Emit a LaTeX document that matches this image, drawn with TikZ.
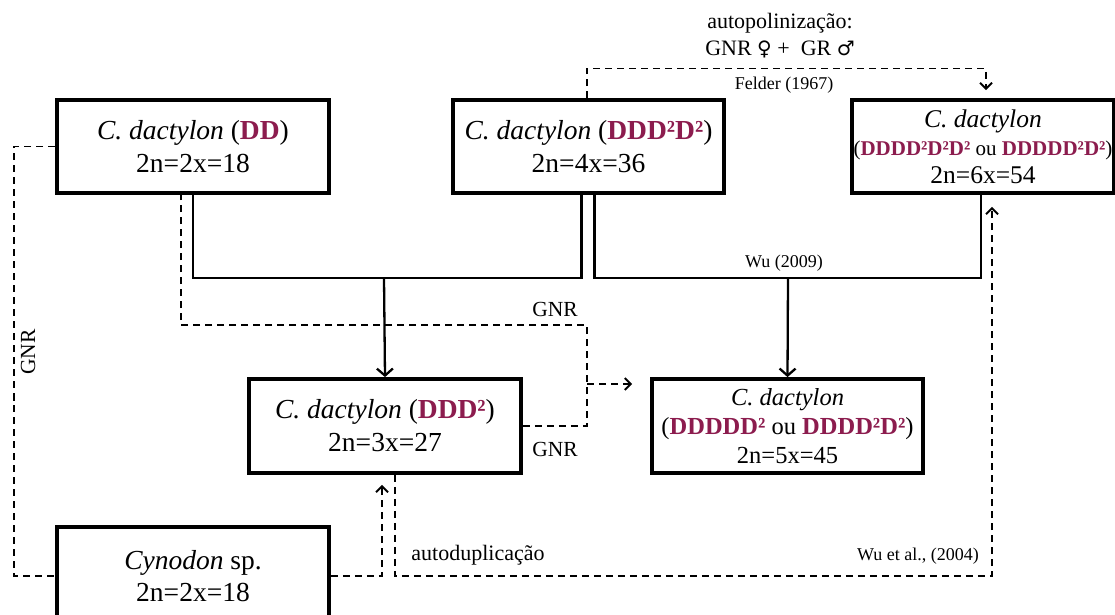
\documentclass[tikz,border=0pt]{standalone}
\usepackage{fontspec}
\setmainfont{Liberation Serif}[
  UprightFont=Liberation Serif,
  ItalicFont=Liberation Serif Italic,
  BoldFont=Liberation Serif Bold,
  BoldItalicFont=Liberation Serif Bold Italic]
\newfontfamily\simbolo{DejaVu Sans}
\usetikzlibrary{arrows.meta}

\definecolor{genoma}{RGB}{140,28,78}
\newcommand{\gen}[1]{\textcolor{genoma}{\textbf{#1}}}
\newcommand{\sz}[2]{\fontsize{#1}{#2}\selectfont}

\tikzset{
  caixa/.style={draw, line width=3.8pt, fill=white, align=center, inner sep=0pt},
  ligacao/.style={line width=2.3pt},
  tracejado/.style={line width=1.9pt, dash pattern=on 7pt off 5pt},
  seta/.style={-{Straight Barb[length=7pt,width=16pt,line width=2.3pt]}},
  setad/.style={-{Straight Barb[length=6pt,width=12pt,line width=1.9pt]}},
  rotulo/.style={inner sep=0pt}
}

\begin{document}
\begin{tikzpicture}[x=1pt,y=-1pt]
    \useasboundingbox (0,0) rectangle (1115,614);

    % caixas
    \node[caixa, minimum width=272, minimum height=93, font=\sz{27.5}{33}] (dd) at (193,146.5)
        {\textit{C. dactylon} (\gen{DD})\\2n=2x=18};
    \node[caixa, minimum width=271, minimum height=93, font=\sz{27.5}{33}] (ddd) at (588.5,146.5)
        {\textit{C. dactylon} (\gen{DDD²D²})\\2n=4x=36};
    \node[caixa, minimum width=262, minimum height=93, font=\sz{25.5}{28}] (hex) at (983,146.5)
        {\textit{C. dactylon}\\\sz{21}{28}(\gen{DDDD²D²D²} ou \gen{DDDDD²D²})\\2n=6x=54};
    \node[caixa, minimum width=272, minimum height=94, font=\sz{27.5}{33}] (trip) at (385,426)
        {\textit{C. dactylon} (\gen{DDD²})\\2n=3x=27};
    \node[caixa, minimum width=271, minimum height=94, font=\sz{24.5}{29}] (pent) at (787.5,426)
        {\textit{C. dactylon}\\(\gen{DDDDD²} ou \gen{DDDD²D²})\\2n=5x=45};
    \node[caixa, minimum width=272, minimum height=98, font=\sz{27.5}{32}] (cyn) at (193,576)
        {\textit{Cynodon} sp.\\2n=2x=18};

    % cruzamentos
    \coordinate (jA) at (384,278);
    \coordinate (jB) at (788,278);
    \draw[ligacao] (dd.south) |- (jA) -| ([xshift=-7pt]ddd.south);
    \draw[ligacao, seta] (jA) -- (trip.north);
    \draw[ligacao] ([xshift=6pt]ddd.south) |- (jB) -| ([xshift=-2pt]hex.south);
    \draw[ligacao, seta] (jB) -- (pent.north);
    \node[rotulo] at (784,263) {\sz{18}{20}Wu (2009)};

    % GNR
    \coordinate (jC) at (587,325);
    \coordinate (jD) at (587,384);
    \draw[tracejado] (trip.east) -| (jC) -| ([xshift=-12pt]dd.south);
    \draw[tracejado, setad, shorten >=18pt] (jD) -- (jD -| pent.west);
    \node[rotulo] at (555,309) {\sz{21.5}{24}GNR};
    \node[rotulo] at (555,449) {\sz{21.5}{24}GNR};

    \coordinate (jE) at (14,400);
    \draw[tracejado] (dd.west) -| (jE) |- (cyn.west);
    \node[rotulo, rotate=90] at (28,352) {\sz{21.5}{24}GNR};

    % autoduplicacao
    \draw[tracejado, setad, shorten >=10pt] (cyn.east) -| ([xshift=-3pt]trip.south);
    \coordinate (jF) at (992,576);
    \draw[tracejado, setad, shorten >=12pt] ([xshift=10pt]trip.south) |- (jF) -- ([xshift=9pt]hex.south);
    \node[rotulo] at (478,555) {\sz{22}{24}autoduplicação};
    \node[rotulo, anchor=east] at (979,556) {\sz{18}{20}Wu et al., (2004)};

    % autopolinizacao
    \coordinate (jG) at (986,68.5);
    \draw[tracejado, setad, shorten >=8pt] ([xshift=-1.5pt]ddd.north) |- (jG) -- ([xshift=3pt]hex.north);
    \node[rotulo] at (780,23) {\sz{22}{24}autopolinização:};
    \node[rotulo] at (780,49) {\sz{22}{24}GNR {\simbolo\sz{20}{24}♀} +\ \ GR {\simbolo\sz{20}{24}♂}};
    \node[rotulo] at (784,85) {\sz{18}{20}Felder (1967)};
\end{tikzpicture}
\end{document}
